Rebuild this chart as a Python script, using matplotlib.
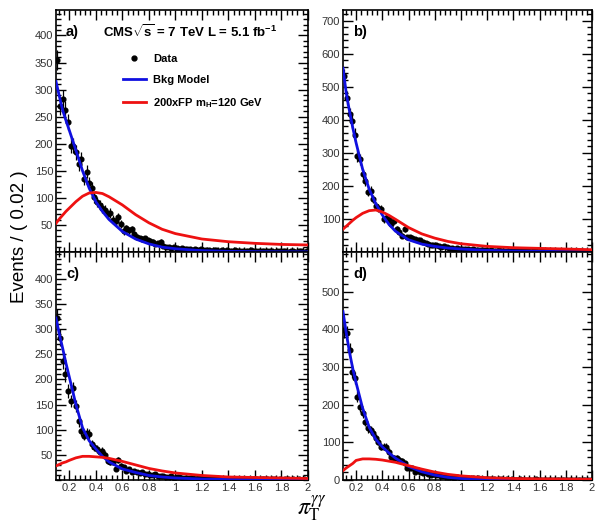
import numpy as np
import matplotlib
matplotlib.use("Agg")
import matplotlib.pyplot as plt
from matplotlib.ticker import MultipleLocator, FuncFormatter
from matplotlib.lines import Line2D

plt.rcParams['font.family'] = ['Liberation Sans', 'DejaVu Sans']
plt.rcParams['mathtext.fontset'] = 'custom'
plt.rcParams['mathtext.rm'] = 'Liberation Sans'
plt.rcParams['mathtext.bf'] = 'Liberation Sans:bold'
plt.rcParams['mathtext.it'] = 'Liberation Sans:italic'

# binning: 95 bins of 0.02 from 0.1 to 2.0
bin_lo = 0.1
bin_width = 0.02

data_a = [355, 270, 282, 262, 240, 196, 196, 184, 162, 172,
          135, 148, 128, 118, 101, 92, 86, 82, 78, 70,
          72, 60, 58, 64, 52, 38, 44, 40, 42, 33,
          28, 25, 24, 25, 22, 20, 19, 15, 16, 19,
          11, 10, 9, 8, 9, 7, 6, 8, 5, 6,
          5, 4, 6, 3, 5, 4, 3, 4, 2, 4,
          3, 2, 3, 2, 3, 1, 2, 3, 2, 1,
          2, 2, 1, 3, 1, 2, 1, 1, 2, 1,
          1, 2, 0, 1, 1, 2, 1, 0, 1, 1,
          0, 1, 1, 0, 1]
data_b = [531, 466, 416, 396, 355, 290, 280, 235, 215, 182,
          185, 160, 139, 134, 131, 99, 104, 99, 84, 94,
          69, 59, 49, 69, 44, 46, 42, 38, 36, 35,
          30, 28, 25, 22, 20, 22, 18, 15, 17, 14,
          12, 13, 10, 11, 9, 10, 8, 9, 7, 8,
          6, 7, 5, 6, 5, 4, 6, 4, 3, 5,
          4, 3, 4, 3, 2, 3, 2, 3, 2, 3,
          2, 1, 2, 3, 1, 2, 2, 1, 2, 1,
          1, 2, 1, 1, 0, 2, 1, 1, 0, 1,
          1, 0, 1, 1, 0]
data_c = [321, 283, 236, 210, 177, 157, 182, 147, 117, 98,
          88, 93, 91, 71, 65, 61, 55, 58, 50, 38,
          35, 35, 22, 40, 28, 25, 18, 22, 16, 18,
          15, 14, 16, 12, 11, 10, 9, 11, 8, 8,
          7, 6, 5, 7, 4, 5, 6, 4, 3, 4,
          3, 4, 2, 3, 3, 2, 3, 2, 1, 2,
          2, 1, 2, 2, 1, 1, 2, 1, 1, 0,
          1, 1, 2, 0, 1, 1, 0, 1, 1, 1,
          0, 1, 1, 0, 1, 0, 1, 1, 0, 1,
          0, 1, 0, 1, 0]
data_d = [398, 389, 345, 287, 270, 221, 195, 177, 155, 137,
          133, 124, 111, 102, 88, 88, 88, 75, 62, 58,
          58, 53, 51, 44, 31, 31, 31, 22, 27, 22,
          18, 20, 16, 14, 15, 12, 13, 10, 11, 9,
          8, 9, 6, 7, 5, 6, 4, 5, 3, 4,
          3, 4, 2, 3, 3, 2, 2, 3, 1, 2,
          2, 1, 2, 1, 2, 1, 1, 2, 1, 1,
          1, 0, 1, 2, 1, 0, 1, 1, 1, 0,
          1, 1, 0, 1, 0, 1, 1, 0, 1, 0,
          1, 0, 1, 0, 1]

# model curves, sampled
curve_x = [0.10, 0.125, 0.15, 0.175, 0.20, 0.25, 0.30, 0.35, 0.40, 0.45, 0.50,
           0.60, 0.70, 0.80, 0.90, 1.00, 1.20, 1.40, 1.60, 1.80, 2.00]
bkg_a = [315, 288, 262, 243, 225, 188, 150, 118, 93, 75, 60,
         38, 24, 15, 9, 6, 2.5, 1.2, 0.7, 0.4, 0.3]
sig_a = [53, 61, 68, 75, 81, 93, 103, 109, 110, 108, 102,
         87, 69, 54, 42, 34, 24, 19, 16, 14, 13]
bkg_b = [556, 480, 425, 375, 330, 250, 190, 146, 112, 84, 63,
         37, 24, 17, 12, 9, 5, 3, 2, 1.5, 1]
sig_b = [69, 78, 87, 96, 104, 117, 125, 127, 121, 111, 99,
         74, 55, 42, 32, 25, 17, 13, 11, 9, 7]
bkg_c = [322, 290, 262, 232, 205, 150, 104, 78, 62, 47, 36,
         22, 15, 9, 6, 4, 2, 1, 0.6, 0.4, 0.3]
sig_c = [28, 31, 34, 36, 39, 44, 47, 47, 46, 45, 43,
         37, 30, 23, 18, 14, 9, 6, 5, 4, 3]
bkg_d = [447, 390, 338, 295, 258, 190, 140, 108, 88, 72, 58,
         36, 22, 13, 7, 4, 1.5, 0.8, 0.5, 0.3, 0.2]
sig_d = [25, 32, 38, 44, 52, 56, 56, 55, 53, 50, 47,
         38, 29, 21, 15, 11, 6, 4, 3, 2.5, 2]

panels = [
    # label, data, bkg, sig, ymax, yticks, minor step
    ("a)", data_a, bkg_a, sig_a, 447, [50, 100, 150, 200, 250, 300, 350, 400], 10),
    ("b)", data_b, bkg_b, sig_b, 732, [100, 200, 300, 400, 500, 600, 700], 20),
    ("c)", data_c, bkg_c, sig_c, 453, [50, 100, 150, 200, 250, 300, 350, 400], 10),
    ("d)", data_d, bkg_d, sig_d, 605, [0, 100, 200, 300, 400, 500], 20),
]

W, H = 601, 523
boxes = [(56, 10, 308, 252), (343, 10, 592, 252),
         (56, 252, 308, 480), (343, 252, 592, 480)]

fig = plt.figure(figsize=(W / 100, H / 100), dpi=100)
tick_col = '#333333'

for i, (lab, vals, bkg, sig, ymax, yt, ystep) in enumerate(panels):
    x0, y0, x1, y1 = boxes[i]
    ax = fig.add_axes([x0 / W, 1 - y1 / H, (x1 - x0) / W, (y1 - y0) / H])
    vals = np.array(vals, dtype=float)
    xc = bin_lo + bin_width * (np.arange(len(vals)) + 0.5)
    ax.errorbar(xc, vals, yerr=np.sqrt(vals), xerr=bin_width / 2, fmt='o',
                color='black', ms=3.4, elinewidth=0.9, capsize=0, zorder=2)
    ax.plot(curve_x, bkg, color='#1010e0', lw=2.0, zorder=3)
    ax.plot(curve_x, sig, color='#ee1111', lw=2.0, zorder=4)

    ax.set_xlim(0.1, 2.0)
    ax.set_ylim(0, ymax)
    ax.xaxis.set_major_locator(MultipleLocator(0.2))
    ax.xaxis.set_minor_locator(MultipleLocator(0.04))
    ax.xaxis.set_major_formatter(FuncFormatter(lambda v, p: '%g' % round(v, 2)))
    ax.set_yticks(yt)
    ax.yaxis.set_minor_locator(MultipleLocator(ystep))
    ax.tick_params(which='both', direction='in', top=True, right=True,
                   labelsize=8, labelcolor=tick_col, width=1.0, pad=2)
    ax.tick_params(which='major', length=7)
    ax.tick_params(which='minor', length=3.5)
    for s in ax.spines.values():
        s.set_linewidth(1.2)
    if i < 2:
        ax.tick_params(labelbottom=False)

    # panel tag, ~10 px right of the left axis, ~22 px below the top
    h_px = y1 - y0
    ax.text(10 / (x1 - x0), 1 - 22 / h_px, lab, transform=ax.transAxes,
            fontsize=10.5, fontweight='bold', ha='left', va='center')

    if i == 0:
        ax.text(0.187, 1 - 22 / h_px,
                r"CMS$\sqrt{\mathbf{s}}$ = 7 TeV L = 5.1 fb$^{\mathbf{-1}}$",
                transform=ax.transAxes, fontsize=9.5, fontweight='bold',
                ha='left', va='center')
        handles = [
            Line2D([], [], marker='o', ls='none', color='black', ms=3.5),
            Line2D([], [], color='#1010e0', lw=2.0),
            Line2D([], [], color='#ee1111', lw=2.0),
        ]
        labels = ["Data", "Bkg Model", r"200xFP m$_{\mathbf{H}}$=120 GeV"]
        ax.legend(handles, labels, loc='upper left', bbox_to_anchor=(0.265, 0.82),
                  frameon=False, prop={'weight': 'bold', 'size': 8},
                  handlelength=2.1, handletextpad=0.6, labelspacing=1.0,
                  borderpad=0, borderaxespad=0)

fig.text(20 / W, 1 - 237 / H, "Events / ( 0.02 )", rotation=90, fontsize=13.5,
         ha='center', va='center')
fig.text(312 / W, 1 - 508 / H, r"$\pi_{\mathrm{T}}^{\gamma\gamma}$", fontsize=17,
         ha='center', va='center', math_fontfamily='stix')

fig.savefig("out.png", dpi=100)
